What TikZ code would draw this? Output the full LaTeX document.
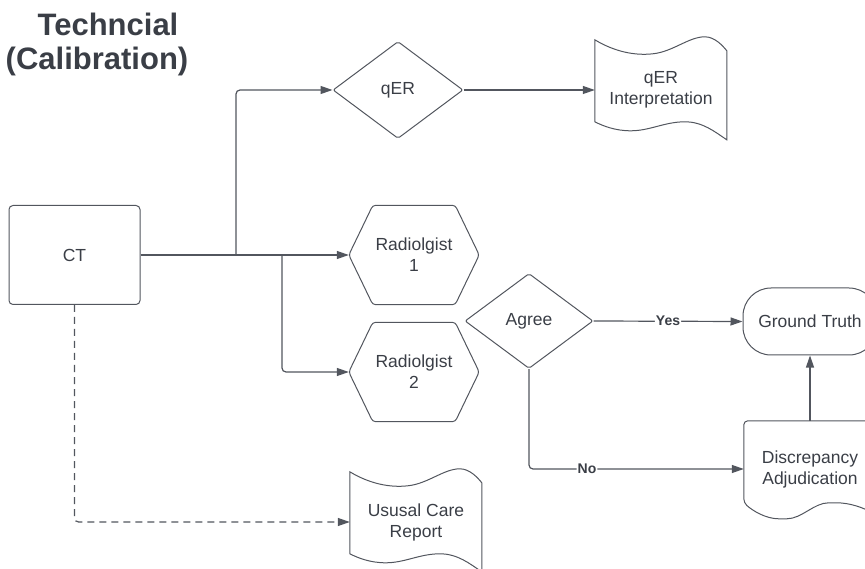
\documentclass[tikz,border=0pt]{standalone}
\usepackage{fontspec}
\setmainfont{Liberation Sans}
\usetikzlibrary{shapes.geometric,arrows.meta}

\definecolor{ink}{RGB}{58,62,70}
\definecolor{edge}{RGB}{82,86,94}

\tikzset{
  outline/.style={draw=edge, line width=1pt},
  box/.style={draw=none, inner sep=0pt, align=center, text=ink,
              font=\fontsize{17.5}{21}\selectfont},
  decision/.style={box, diamond, outline, minimum width=130pt,
                   minimum height=97pt, rounded corners=2pt},
  flow/.style={draw=edge, line width=1.2pt, rounded corners=4pt,
               -{Triangle[length=12pt,width=8pt]}},
  lab/.style={fill=white, inner sep=1pt, text=ink,
              font=\fontsize{14}{16}\selectfont\bfseries},
  title/.style={text=ink, inner sep=0pt, anchor=base,
                font=\fontsize{31}{34}\selectfont\bfseries},
}

% hexagon outline around a rectangular node
\newcommand\hexline[1]{%
  \draw[outline, rounded corners=3pt]
    ([xshift=24pt]#1.north west) -- ([xshift=-24pt]#1.north east) -- (#1.east)
    -- ([xshift=-24pt]#1.south east) -- ([xshift=24pt]#1.south west) -- (#1.west) -- cycle;}

% punched-tape outline (wavy top and bottom), node 132 x 100
\newcommand\tapeline[1]{%
  \draw[outline, shift={(#1.north west)}]
    (0,0) .. controls (20,12) and (40,16) .. (58,14)
          .. controls (78,12) and (94,-3) .. (110,-3)
          .. controls (120,-3) and (128,6) .. (132,11)
    -- (132,100)
          .. controls (120,92) and (108,82) .. (90,82)
          .. controls (70,82) and (55,91) .. (36,91)
          .. controls (20,91) and (8,86) .. (0,82)
    -- cycle;}

% document outline (flat top, wavy bottom), node 132 x 96
\newcommand\docline[1]{%
  \draw[outline, rounded corners=4pt, shift={(#1.north west)}]
    (0,40) -- (0,0) -- (132,0) -- (132,94)
          .. controls (120,87) and (106,82) .. (89,82)
          .. controls (70,82) and (58,98) .. (39,98)
          .. controls (22,98) and (9,90) .. (0,82)
    -- cycle;}

\begin{document}
\begin{tikzpicture}[x=1pt, y=-1pt]
  \useasboundingbox (0,0) rectangle (865,569);
  \clip (0,0) rectangle (865,569);

  % heading
  \node[title] (head1) at (108,36) {Techncial};
  \node[title] (head2) at (97,70) {(Calibration)};

  % nodes
  \node[box, outline, rounded corners=4pt, minimum width=131pt,
        minimum height=99pt] (ct) at (74.5,255) {CT};
  \node[decision] (qer) at (398,90) {qER};
  \node[box, minimum width=132pt, minimum height=100pt] (qi) at (661,90)
        {qER\\Interpretation};
  \node[box, minimum width=130pt, minimum height=99pt] (r1) at (414,255)
        {Radiolgist\\1};
  \node[box, minimum width=130pt, minimum height=99pt] (r2) at (414,372)
        {Radiolgist\\2};
  \node[decision, minimum width=128pt, minimum height=95pt] (agree) at (529,321)
        {Agree};
  \node[box, outline, rounded corners=28pt, minimum width=134pt,
        minimum height=67pt] (gt) at (810,321.5) {Ground Truth};
  \node[box, minimum width=132pt, minimum height=96pt] (disc) at (810,469)
        {Discrepancy\\Adjudication};
  \node[box, minimum width=132pt, minimum height=100pt] (ucr) at (416,522)
        {Ususal Care\\Report};

  % custom outlines
  \hexline{r1}
  \hexline{r2}
  \tapeline{qi}
  \tapeline{ucr}
  \docline{disc}

  % connectors
  \coordinate (j1) at (236,255);
  \coordinate (j2) at (282,255);
  \draw[flow] (ct.east) -- (r1.west);
  \draw[flow] (j1) |- (qer.west);
  \draw[flow] (j2) |- (r2.west);
  \draw[flow] (qer.east) -- (qi.west);
  \draw[flow] (agree.east) -- node[lab] {Yes} (gt.west);
  \draw[flow] (agree.south) |- node[lab, pos=0.635] {No} (disc.west);
  \draw[flow] (disc.north) -- (disc.north |- gt.south);
  \draw[flow, dash pattern=on 7pt off 5pt] (ct.south) |- (ucr.west);
\end{tikzpicture}
\end{document}
